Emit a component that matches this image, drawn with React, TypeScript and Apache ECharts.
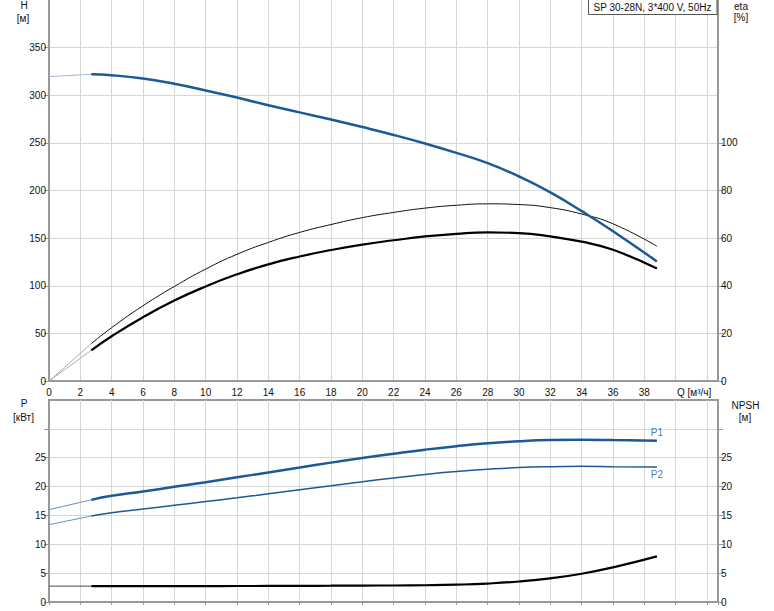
import React, { useEffect, useRef } from 'react';
import * as echarts from 'echarts';

// Flow rate Q [m³/h]
const Q = [0, 2.7, 4, 6, 8, 10, 12, 14, 16, 18, 20, 22, 24, 26, 28, 30, 32, 34, 36, 38.8];
// Head H [m]
const H = [319.6, 322, 321, 317.5, 312, 305, 297.6, 289.5, 282, 274.5, 266.6, 258.3, 249.3, 239.5, 228.7, 214.7, 198, 178.3, 157.3, 125.5];
// Efficiencies [%]
const ETA_PUMP = [0, 15.7, 22.4, 31.6, 39.7, 47, 53.2, 58.2, 62.4, 65.7, 68.6, 70.8, 72.6, 73.8, 74.4, 74.1, 72.8, 70.1, 66, 56.6];
const ETA_TOTAL = [0, 12.9, 18.8, 26.8, 33.8, 39.7, 44.8, 49, 52.3, 55.0, 57.3, 59.1, 60.7, 61.8, 62.4, 62.1, 60.7, 58.5, 55.1, 47.2];
// Power [kW]
const P1 = [16, 17.7, 18.4, 19.15, 19.95, 20.75, 21.6, 22.45, 23.3, 24.15, 24.95, 25.7, 26.4, 27.0, 27.5, 27.85, 28.05, 28.1, 28.05, 27.95];
const P2 = [13.4, 14.9, 15.45, 16.1, 16.75, 17.4, 18.05, 18.75, 19.45, 20.15, 20.85, 21.5, 22.1, 22.6, 23.0, 23.3, 23.45, 23.5, 23.45, 23.4];
// NPSH [m]
const NPSH = [2.75, 2.75, 2.75, 2.75, 2.75, 2.75, 2.77, 2.78, 2.8, 2.82, 2.85, 2.86, 2.9, 3.0, 3.2, 3.55, 4.1, 4.9, 6.0, 7.9];

const X_LABELS = [0, 2, 4, 6, 8, 10, 12, 14, 16, 18, 20, 22, 24, 26, 28, 30, 32, 34, 36, 38];
const H_LABELS = [0, 50, 100, 150, 200, 250, 300, 350];
const ETA_LABELS = [0, 20, 40, 60, 80, 100];
const P_LABELS = [0, 5, 10, 15, 20, 25];
const P_TICKS = [0, 5, 10, 15, 20, 25, 30];

const TITLE = 'SP 30-28N, 3*400 V, 50Hz';

const FONT = 'Arial';
const BLUE = '#1b5a97';
const AXIS = '#999';
const GRID = '#d6d6d6';
const TXT = '#111';

const pts = (ys: number[], from: number, to?: number) =>
  Q.slice(from, to).map((q, i) => [q, ys[from + i]]);

export default function App() {
  const ref = useRef<HTMLDivElement>(null);
  useEffect(() => {
    const chart = echarts.init(ref.current!, null, { renderer: 'svg' });
    const last = Q.length - 1;
    const xBase = (gi: number, labels: boolean) => ({
      type: 'value',
      gridIndex: gi,
      min: 0,
      max: 42.7,
      interval: 2,
      axisLine: { show: true, onZero: false, lineStyle: { color: AXIS, width: 2 } },
      axisTick: { show: !labels, length: 3, lineStyle: { color: AXIS } },
      axisLabel: labels
        ? { show: true, customValues: X_LABELS, fontSize: 10, color: TXT, fontFamily: FONT, margin: 6 }
        : { show: false },
      splitLine: { show: true, lineStyle: { color: GRID, width: 1 } },
    });
    const yBase = (gi: number, pos: string, max: number, interval: number, ticks: number[], labels: number[], split: boolean) => ({
      type: 'value',
      gridIndex: gi,
      position: pos,
      min: 0,
      max,
      interval,
      axisLine: { show: true, onZero: false, lineStyle: { color: AXIS, width: 2 } },
      axisTick: { show: true, length: 5, customValues: ticks, lineStyle: { color: AXIS } },
      axisLabel: { show: true, customValues: labels, fontSize: 10, color: TXT, fontFamily: FONT, margin: 3 },
      splitLine: { show: split, lineStyle: { color: GRID, width: 1 } },
    });
    const line = (xi: number, yi: number, data: number[][], color: string, width: number, z = 2) => ({
      type: 'line',
      xAxisIndex: xi,
      yAxisIndex: yi,
      data,
      symbol: 'none',
      smooth: 0.5,
      lineStyle: { color, width },
      z,
    });
    const gtext = (text: string, x: number, y: number) => ({
      type: 'text',
      x,
      y,
      style: { text, align: 'center', verticalAlign: 'middle', fontSize: 10, fill: TXT, fontFamily: FONT },
    });

    chart.setOption({
      animation: false,
      backgroundColor: '#fff',
      textStyle: { fontFamily: FONT },
      grid: [
        { left: 49, right: 56, top: 0, height: 381, containLabel: false },
        { left: 49, right: 56, top: 400, height: 202, show: true, borderColor: AXIS, borderWidth: 2, backgroundColor: 'transparent' },
      ],
      xAxis: [xBase(0, true), xBase(1, false)],
      yAxis: [
        yBase(0, 'left', 400, 50, H_LABELS, H_LABELS, true),
        yBase(0, 'right', 160, 20, ETA_LABELS, ETA_LABELS, false),
        yBase(1, 'left', 35, 5, P_TICKS, P_LABELS, true),
        yBase(1, 'right', 35, 5, P_TICKS, P_LABELS, false),
      ],
      series: [
        line(0, 1, pts(ETA_PUMP, 0, 2), '#aaa', 1),
        line(0, 1, pts(ETA_PUMP, 1), '#111', 1),
        line(0, 1, pts(ETA_TOTAL, 0, 2), '#aaa', 1),
        line(0, 1, pts(ETA_TOTAL, 1), '#000', 2.2),
        line(0, 0, pts(H, 0, 2), '#9db3cc', 1, 3),
        line(0, 0, pts(H, 1), BLUE, 2.5, 3),
        line(1, 2, pts(P1, 0, 2), '#6a8fb5', 1),
        line(1, 2, pts(P1, 1), BLUE, 2.5),
        line(1, 2, pts(P2, 0, 2), '#6a8fb5', 1),
        line(1, 2, pts(P2, 1), BLUE, 1.5),
        line(1, 3, pts(NPSH, 0, 2), '#444', 1),
        line(1, 3, pts(NPSH, 1), '#000', 2.2),
        {
          type: 'scatter',
          xAxisIndex: 1,
          yAxisIndex: 2,
          symbolSize: 0,
          silent: true,
          data: [
            { value: [Q[last], P1[last]], label: { show: true, position: 'top', distance: 3, formatter: 'P1' } },
            { value: [Q[last], P2[last]], label: { show: true, position: 'bottom', distance: 3, formatter: 'P2' } },
          ],
          label: { fontSize: 10, color: BLUE, fontFamily: FONT },
        },
      ],
      graphic: [
        {
          type: 'rect',
          shape: { x: 588.5, y: -1.5, width: 128.5, height: 16 },
          style: { fill: '#fff', stroke: '#555', lineWidth: 1 },
          z: 100,
        },
        {
          type: 'text',
          x: 652.5,
          y: 7,
          z: 101,
          style: { text: TITLE, align: 'center', verticalAlign: 'middle', fontSize: 10, fill: TXT, fontFamily: FONT },
        },
        gtext('H', 24, 5),
        gtext('[м]', 23, 18),
        gtext('eta', 741, 6),
        gtext('[%]', 741, 17),
        gtext('P', 24, 403),
        gtext('[кВт]', 23.5, 417),
        gtext('NPSH', 745.5, 405),
        gtext('[м]', 745, 417),
        {
          type: 'text',
          x: 677,
          y: 392,
          style: { text: 'Q [м³/ч]', align: 'left', verticalAlign: 'middle', fontSize: 10, fill: TXT, fontFamily: FONT },
        },
      ],
    });
    return () => chart.dispose();
  }, []);
  return <div ref={ref} style={{ position: 'absolute', left: 0, top: 0, width: 774, height: 611 }} />;
}
